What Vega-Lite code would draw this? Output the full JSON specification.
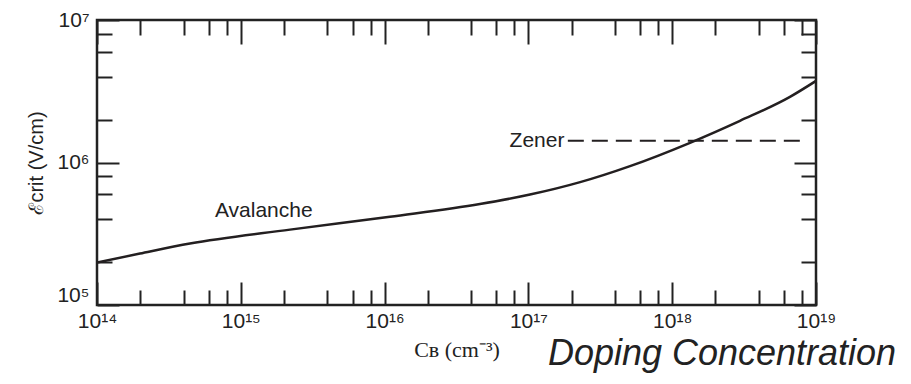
{
  "$schema": "https://vega.github.io/schema/vega-lite/v6.json",
  "width": 719,
  "height": 285,
  "autosize": {"type": "none"},
  "padding": {"left": 97, "top": 20, "right": 95, "bottom": 79},
  "background": "white",
  "config": {
    "view": {"stroke": "#222", "strokeWidth": 2.5},
    "axis": {"domain": false, "grid": false, "ticks": true, "labelFont": "Liberation Sans", "labelFontSize": 21, "labelColor": "#222", "tickColor": "#222", "tickWidth": 2, "tickSize": -15, "labelOverlap": false, "labelFlush": false, "labelBound": false}
  },
  "datasets": {
    "curve": [
      {"conc": 1e14, "field": 1.985e5},
      {"conc": 1.99e14, "field": 2.295e5},
      {"conc": 4.43e14, "field": 2.697e5},
      {"conc": 2.20e15, "field": 3.38e5},
      {"conc": 1.09e16, "field": 4.169e5},
      {"conc": 4.60e16, "field": 5.108e5},
      {"conc": 1.026e17, "field": 5.955e5},
      {"conc": 2.29e17, "field": 7.28e5},
      {"conc": 5.09e17, "field": 9.43e5},
      {"conc": 1.33e18, "field": 1.375e6},
      {"conc": 2.96e18, "field": 1.961e6},
      {"conc": 6.59e18, "field": 2.888e6},
      {"conc": 1e19, "field": 3.738e6}
    ],
    "zener": [
      {"conc": 1.88e17, "field": 1.42e6},
      {"conc": 7.75e18, "field": 1.42e6}
    ],
    "avalanche": [
      {"conc": 1.445e15, "field": 4.57e5, "text": "Avalanche"}
    ],
    "zenerLabel": [
      {"conc": 1.78e17, "field": 1.42e6, "text": "Zener"}
    ],
    "note": [
      {"conc": 2.22e18, "field": 4.5e4, "text": "Doping Concentration"}
    ]
  },
  "layer": [
    {
      "data": {"name": "curve"},
      "mark": {"type": "line", "color": "#231f20", "strokeWidth": 2.5, "interpolate": "monotone", "clip": true},
      "encoding": {
        "x": {
          "field": "conc", "type": "quantitative",
          "scale": {"type": "log", "domain": [1e14, 1e19], "nice": false},
          "axis": {
            "orient": "bottom",
            "values": [1e14, 1e15, 1e16, 1e17, 1e18, 1e19],
            "tickSize": -23,
            "labelExpr": "'10' + replace(replace(replace(replace(replace(replace(replace(''+round(log(datum.value)/LN10), '1', '¹'), '4', '⁴'), '5', '⁵'), '6', '⁶'), '7', '⁷'), '8', '⁸'), '9', '⁹')",
            "labelPadding": 28,
            "labelBaseline": "top",
            "title": "Cʙ (cm⁻³)",
            "titleFont": "Liberation Serif",
            "titleFontSize": 22,
            "titleFontWeight": "normal",
            "titleColor": "#222",
            "titlePadding": 8
          }
        },
        "y": {
          "field": "field", "type": "quantitative",
          "scale": {"type": "log", "domain": [1e5, 1e7], "nice": false},
          "axis": {
            "orient": "left",
            "values": [1e5, 1e6, 1e7],
            "tickSize": -22,
            "labelExpr": "'10' + replace(replace(replace(''+round(log(datum.value)/LN10), '5', '⁵'), '6', '⁶'), '7', '⁷')",
            "labelPadding": 30,
            "labelBaseline": {"condition": {"test": "datum.value < 1.5e5", "value": "bottom"}, "value": "middle"},
            "title": "ℰcrit (V/cm)",
            "titleFont": "Liberation Sans",
            "titleFontSize": 20,
            "titleFontWeight": "normal",
            "titleColor": "#222",
            "titlePadding": 10
          }
        }
      }
    },
    {
      "data": {"name": "zener"},
      "mark": {"type": "line", "color": "#231f20", "strokeWidth": 2, "strokeDash": [16, 8]},
      "encoding": {
        "x": {
          "field": "conc", "type": "quantitative",
          "axis": {
            "orient": "top",
            "values": [1e14, 1e15, 1e16, 1e17, 1e18, 1e19],
            "tickSize": -24,
            "labels": false, "title": null
          }
        },
        "y": {
          "field": "field", "type": "quantitative",
          "axis": {
            "orient": "right",
            "values": [1e5, 1e6, 1e7],
            "tickSize": -22,
            "labels": false, "title": null
          }
        }
      }
    },
    {
      "data": {"name": "avalanche"},
      "mark": {"type": "text", "font": "Liberation Sans", "fontSize": 21, "color": "#222", "baseline": "middle", "align": "center"},
      "encoding": {
        "x": {
          "field": "conc", "type": "quantitative",
          "axis": {
            "orient": "bottom",
            "values": [2e14, 4e14, 6e14, 8e14, 2e15, 4e15, 6e15, 8e15, 2e16, 4e16, 6e16, 8e16, 2e17, 4e17, 6e17, 8e17, 2e18, 4e18, 6e18, 8e18],
            "labels": false, "title": null
          }
        },
        "y": {
          "field": "field", "type": "quantitative",
          "axis": {
            "orient": "left",
            "values": [2e5, 4e5, 6e5, 8e5, 2e6, 4e6, 6e6, 8e6],
            "labels": false, "title": null
          }
        },
        "text": {"field": "text"}
      }
    },
    {
      "data": {"name": "zenerLabel"},
      "mark": {"type": "text", "font": "Liberation Sans", "fontSize": 21, "color": "#222", "baseline": "middle", "align": "right"},
      "encoding": {
        "x": {
          "field": "conc", "type": "quantitative",
          "axis": {
            "orient": "top",
            "values": [2e14, 4e14, 6e14, 8e14, 2e15, 4e15, 6e15, 8e15, 2e16, 4e16, 6e16, 8e16, 2e17, 4e17, 6e17, 8e17, 2e18, 4e18, 6e18, 8e18],
            "labels": false, "title": null
          }
        },
        "y": {
          "field": "field", "type": "quantitative",
          "axis": {
            "orient": "right",
            "values": [2e5, 4e5, 6e5, 8e5, 2e6, 4e6, 6e6, 8e6],
            "labels": false, "title": null
          }
        },
        "text": {"field": "text"}
      }
    },
    {
      "data": {"name": "note"},
      "mark": {"type": "text", "font": "Liberation Sans", "fontSize": 36, "fontStyle": "italic", "color": "#222", "baseline": "middle", "align": "center", "clip": false},
      "encoding": {
        "x": {"field": "conc", "type": "quantitative", "axis": null},
        "y": {"field": "field", "type": "quantitative", "axis": null},
        "text": {"field": "text"}
      }
    }
  ],
  "resolve": {"axis": {"x": "independent", "y": "independent"}}
}
